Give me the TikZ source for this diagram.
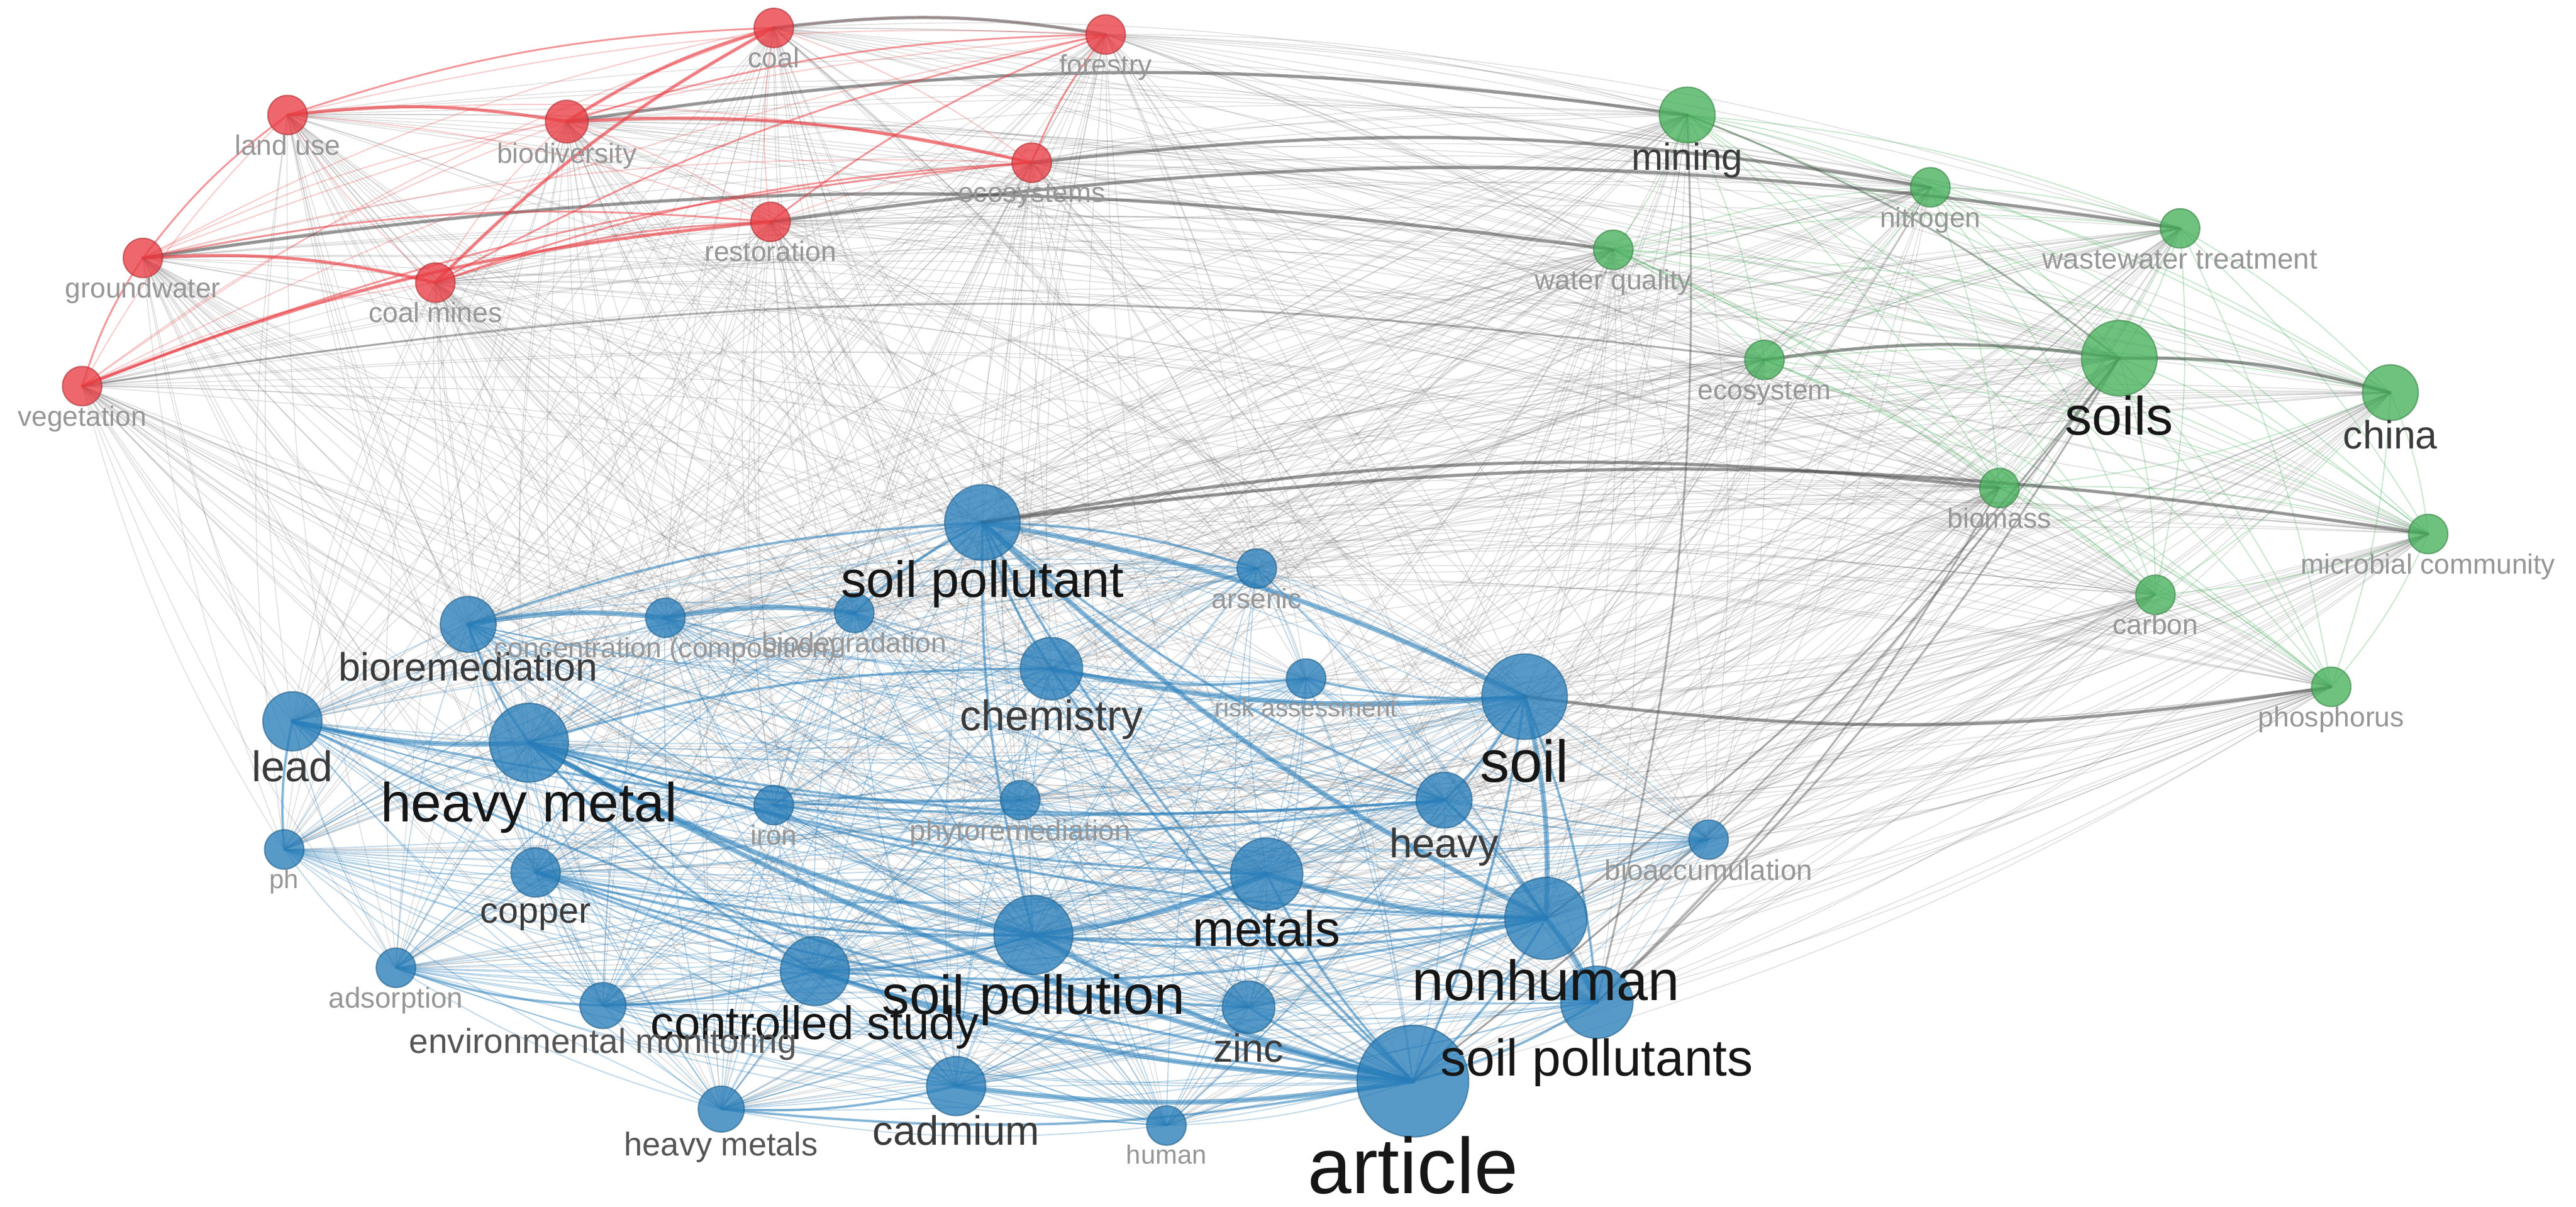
\documentclass[tikz,border=0pt]{standalone}
\usepackage{fontspec}
\setmainfont{Liberation Sans}
\usetikzlibrary{calc,backgrounds}
\definecolor{redc}{RGB}{232,60,66}
\definecolor{greenc}{RGB}{70,175,90}
\definecolor{bluec}{RGB}{40,125,185}
\definecolor{edgegray}{RGB}{105,105,105}
\definecolor{lblack}{RGB}{22,22,22}
\definecolor{ldark}{RGB}{58,58,58}
\definecolor{lmid}{RGB}{85,85,85}
\definecolor{llight}{RGB}{150,150,150}
\newcommand\vx[1]{\csname vx@#1\endcsname}
\newcommand\vy[1]{\csname vy@#1\endcsname}
% cos/sin of the bend angle (about 8 degrees)
\def\vcos{0.990}
\def\vsin{0.139}
\newcommand\vlink[3]{%
  \pgfmathsetmacro\vdx{\vx{#3}-\vx{#2}}%
  \pgfmathsetmacro\vdy{\vy{#3}-\vy{#2}}%
  \pgfmathsetmacro\vsg{sign(-(\vdy)/100*((\vx{#2}+\vx{#3})/2-780)/100+(\vdx)/100*((\vy{#2}+\vy{#3})/2-400)/100)}%
  \pgfmathsetmacro\vcx{0.3915*(\vcos*(\vdx)-\vsin*(\vsg)*(\vdy))}%
  \pgfmathsetmacro\vcy{0.3915*(\vcos*(\vdy)+\vsin*(\vsg)*(\vdx))}%
  \pgfmathsetmacro\vex{0.3915*(-\vcos*(\vdx)-\vsin*(\vsg)*(\vdy))}%
  \pgfmathsetmacro\vey{0.3915*(-\vcos*(\vdy)+\vsin*(\vsg)*(\vdx))}%
  \draw[#1] (#2.center) .. controls +(\vcx,\vcy) and +(\vex,\vey) .. (#3.center);}
\tikzset{
  kwnode/.style={circle, inner sep=0pt, fill opacity=0.78, draw opacity=0.55, line width=0.8pt},
  kwlabel/.style={anchor=base, inner sep=0pt},
  gedge/.style={line width=0.55pt, draw=edgegray, draw opacity=0.22},
  redge/.style={line width=0.7pt, draw=redc, draw opacity=0.28},
  gredge/.style={line width=0.7pt, draw=greenc, draw opacity=0.3},
  bedge/.style={line width=0.7pt, draw=bluec, draw opacity=0.3},
  bthick/.style={line width=3pt, draw=bluec, draw opacity=0.55, line cap=round},
  bmed/.style={line width=1.6pt, draw=bluec, draw opacity=0.45, line cap=round},
  rthick/.style={line width=2pt, draw=redc, draw opacity=0.6, line cap=round},
  rmed/.style={line width=1.2pt, draw=redc, draw opacity=0.4, line cap=round},
  kthick/.style={line width=2pt, draw=black!75, draw opacity=0.5, line cap=round},
  kmed/.style={line width=1.3pt, draw=black!70, draw opacity=0.35, line cap=round},
}
\def\kwdata{%
coal/471/17/12/redc/coal/17/llight,%
forestry/673/21/12/redc/forestry/17/llight,%
landuse/175/70/12/redc/land use/17/llight,%
biodiversity/345/74/13/redc/biodiversity/17/llight,%
ecosystems/628/99/12/redc/ecosystems/17/llight,%
restoration/469/135/12/redc/restoration/17/llight,%
groundwater/87/157/12/redc/groundwater/17/llight,%
coalmines/265/172/12/redc/coal mines/17/llight,%
vegetation/50/235/12/redc/vegetation/17/llight,%
mining/1027/70/17/greenc/mining/23/ldark,%
nitrogen/1175/114/12/greenc/nitrogen/17/llight,%
wastewater/1327/139/12/greenc/wastewater treatment/17.5/llight,%
waterquality/982/152/12/greenc/water quality/17/llight,%
ecosystem/1074/219/12/greenc/ecosystem/17/llight,%
soils/1290/218/23/greenc/soils/33/lblack,%
china/1455/239/17/greenc/china/24/ldark,%
biomass/1217/297/12/greenc/biomass/17/llight,%
microbial/1478/325/12/greenc/microbial community/17/llight,%
carbon/1312/362/12/greenc/carbon/17/llight,%
phosphorus/1419/418/12/greenc/phosphorus/17/llight,%
soilpollutant/598/318/23/bluec/soil pollutant/31/lblack,%
arsenic/765/346/12/bluec/arsenic/17/llight,%
bioremediation/285/380/17/bluec/bioremediation/24/ldark,%
concentration/405/376/12/bluec/concentration (composition)/17/llight,%
biodegradation/520/373/12/bluec/biodegradation/17/llight,%
chemistry/640/407/19/bluec/chemistry/26/ldark,%
riskassessment/795/413/12/bluec/risk assessment/15.5/llight,%
soil/928/424/26/bluec/soil/36/lblack,%
lead/178/439/18/bluec/lead/26/ldark,%
heavymetal/322/452/24/bluec/heavy metal/33.5/lblack,%
iron/471/490/12/bluec/iron/17/llight,%
phytoremediation/621/487/12/bluec/phytoremediation/17.5/llight,%
heavy/879/487/17/bluec/heavy/25/ldark,%
bioaccumulation/1040/511/12/bluec/bioaccumulation/17.5/llight,%
ph/173/517/12/bluec/ph/16/llight,%
copper/326/531/15/bluec/copper/22/ldark,%
metals/771/532/22/bluec/metals/30.5/lblack,%
nonhuman/941/559/25/bluec/nonhuman/34.5/lblack,%
soilpollution/629/569/24/bluec/soil pollution/33.5/lblack,%
controlledstudy/496/591/21/bluec/controlled study/28.5/lblack,%
adsorption/241/589/12/bluec/adsorption/17.5/llight,%
envmonitoring/367/612/14/bluec/environmental monitoring/21/lmid,%
zinc/760/613/16/bluec/zinc/24/ldark,%
soilpollutants/972/610/22/bluec/soil pollutants/31.4/lblack,%
cadmium/582/661/18/bluec/cadmium/25/ldark,%
heavymetals/439/675/14/bluec/heavy metals/20/lmid,%
human/710/685/12/bluec/human/16/llight,%
article/860/658/34/bluec/article/48/lblack%
}
\def\Rlist{coal,forestry,landuse,biodiversity,ecosystems,restoration,groundwater,coalmines,vegetation}
\def\Glist{mining,nitrogen,wastewater,waterquality,ecosystem,soils,china,biomass,microbial,carbon,phosphorus}
\def\Blist{soilpollutant,arsenic,bioremediation,concentration,biodegradation,chemistry,riskassessment,soil,lead,heavymetal,iron,phytoremediation,heavy,bioaccumulation,ph,copper,metals,nonhuman,soilpollution,controlledstudy,adsorption,envmonitoring,zinc,soilpollutants,cadmium,heavymetals,human,article}
\begin{document}
\begin{tikzpicture}[x=1pt,y=-1pt]
\useasboundingbox (0,0) rectangle (1568,734.6);
% keyword circles
\foreach \n/\x/\y/\r/\c/\t/\s/\lc in \kwdata {
  \node[kwnode, minimum size={2*\r pt}, fill=\c, draw=\c!70!black] (\n) at (\x,\y) {};
  \expandafter\xdef\csname vx@\n\endcsname{\x}
  \expandafter\xdef\csname vy@\n\endcsname{\y}
}
% links
\begin{scope}[on background layer]
  \foreach \a in \Rlist {\foreach \b in \Blist {\vlink{gedge}{\a}{\b}}}
  \foreach \a in \Glist {\foreach \b in \Blist {\vlink{gedge}{\a}{\b}}}
  \foreach \a in \Rlist {\foreach \b in \Glist {\vlink{gedge}{\a}{\b}}}
  \foreach \a [count=\i] in \Rlist {\foreach \b [count=\j] in \Rlist {\ifnum\j>\i\relax\vlink{redge}{\a}{\b}\fi}}
  \foreach \a [count=\i] in \Glist {\foreach \b [count=\j] in \Glist {\ifnum\j>\i\relax\vlink{gredge}{\a}{\b}\fi}}
  \foreach \a [count=\i] in \Blist {\foreach \b [count=\j] in \Blist {\ifnum\j>\i\relax\vlink{bedge}{\a}{\b}\fi}}
  % strong links
  \foreach \a/\b in {lead/heavymetal, heavymetal/article, soilpollutant/soil, soilpollutant/nonhuman,
      soilpollution/article, soilpollution/metals, cadmium/article, controlledstudy/article,
      bioremediation/concentration, concentration/biodegradation, chemistry/soil, soil/nonhuman,
      nonhuman/soilpollutants, metals/nonhuman, heavymetal/soilpollution}
    {\vlink{bthick}{\a}{\b}}
  \foreach \a/\b in {lead/heavy, heavymetal/nonhuman, heavymetal/metals, heavymetal/heavy,
      heavymetal/controlledstudy, bioremediation/soilpollutant, soilpollutant/heavy,
      soilpollutant/chemistry, soilpollutant/soilpollution, soilpollutant/article,
      chemistry/riskassessment, chemistry/heavymetal, chemistry/article, soil/soilpollutants,
      soil/article, soil/heavy, metals/article, soilpollution/controlledstudy, soilpollution/nonhuman,
      controlledstudy/envmonitoring, controlledstudy/nonhuman, copper/article, copper/soilpollution,
      copper/nonhuman, cadmium/heavymetals, heavymetals/article, zinc/article, nonhuman/article,
      adsorption/envmonitoring, iron/heavy, arsenic/soilpollutant, riskassessment/soil, lead/article,
      copper/zinc, soilpollutants/article, bioremediation/heavymetal, biodegradation/soilpollutant,
      phytoremediation/heavymetal, heavy/nonhuman, lead/ph}
    {\vlink{bmed}{\a}{\b}}
  \foreach \a/\b in {soils/china, soils/ecosystem, biodiversity/mining, groundwater/waterquality,
      soil/phosphorus, soilpollutant/biomass, ecosystems/nitrogen, restoration/wastewater,
      soilpollutant/microbial}
    {\vlink{kthick}{\a}{\b}}
  \foreach \a/\b in {vegetation/ecosystem, soils/nonhuman, soils/soilpollutants, biomass/soilpollutants,
      mining/soilpollutants, mining/soils, soils/article}
    {\vlink{kmed}{\a}{\b}}
  \foreach \a/\b in {landuse/biodiversity, biodiversity/ecosystems, coalmines/coal, groundwater/coalmines,
      vegetation/restoration, biodiversity/coal}
    {\vlink{rthick}{\a}{\b}}
  \vlink{kthick}{coal}{forestry}
  \foreach \a/\b in {landuse/coal, groundwater/restoration, coalmines/restoration, coalmines/ecosystems,
      vegetation/groundwater, landuse/groundwater, restoration/forestry, ecosystems/forestry,
      biodiversity/forestry, coalmines/forestry, vegetation/ecosystems}
    {\vlink{rmed}{\a}{\b}}
\end{scope}
% labels
\foreach \n/\x/\y/\r/\c/\t/\s/\lc in \kwdata {
  \node[kwlabel, text=\lc, font=\fontsize{\s}{\s}\selectfont] (\n-l) at (\x,{\y+\r+0.72*\s}) {\t};
}
\end{tikzpicture}
\end{document}
